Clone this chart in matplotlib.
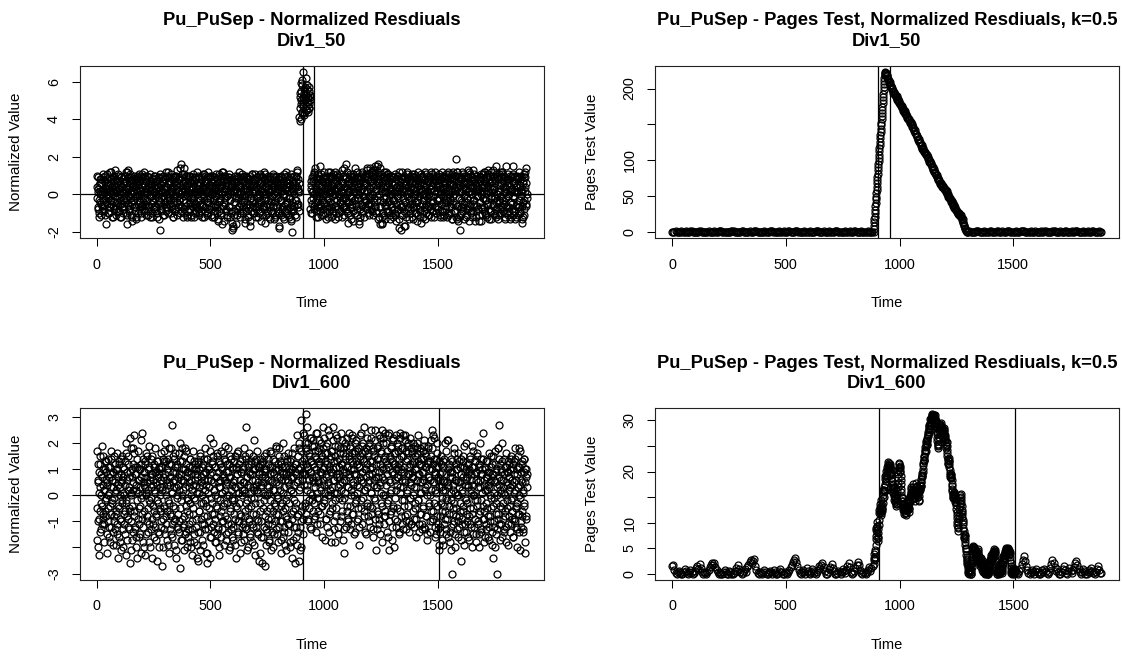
import numpy as np
import matplotlib
matplotlib.use("Agg")
import matplotlib.pyplot as plt

plt.rcParams['font.family'] = ['Liberation Sans', 'DejaVu Sans']

# ---- Div1_50 normalized residuals (tenths); odd time steps then even ones ----
res50_pre = np.array([
    -2, 10, -8, 3, -10, 5, 0, 8, -4, -11, 6, 2, -6, 9, -3, 1, -9, 4, 7, -1,
    -16, 3, -5, 11, -2, 6, -10, 0, 12, -7, 4, -3, 8, -12, 2, -6, 9, 1, -4, 13,
    5, -8, 2, -11, 7, -1, 10, -5, 3, -9, 0, 6, -3, 9, -12, 4, -7, 1, 8, -2,
    -6, 10, -4, 3, -10, 6, -16, 12, 13, 0, -8, 5, -2, 9, -11, 2, 7, -5, -14, 4,
    8, -3, 1, -9, 6, -13, 3, -7, 10, -1, 5, -10, 0, 7, -4, 2, -12, 9, -6, 4,
    11, -2, 6, -8, 0, 10, -5, 3, -11, 7, -3, 1, -9, 5, 9, -6, 2, -12, 4, -1,
    6, -10, 3, -4, 8, -7, 1, 10, -2, 5, -9, 0, 7, -12, 4, -5, 9, -3, 2, -19,
    -8, 5, -2, 9, -6, 1, -11, 6, 3, -4, 8, -9, 0, 4, -7, 10, -1, 12, -5, 7,
    -3, 6, -10, 2, 8, -6, 4, -12, 0, 9, -4, 7, -8, 3, 10, -1, 5, -11, 2, 8,
    -5, 9, -2, 4, -9, 16, 1, 11, -7, 6, -3, 14, -10, 2, 7, -6, 0, 10, -12, 5,
    -1, 8, -8, 3, -4, 10, -11, 6, 0, -6, 9, -2, 4, -12, 7, -5, 1, 8, -9, 3,
    -7, 5, -3, 10, -10, 2, 6, -5, 9, -1, -12, 4, 8, -6, 0, 11, -3, 6, -9, 2,
    7, -4, 1, -11, 9, -2, 5, -8, 3, 10, -6, 0, 8, -12, 4, -3, 6, -9, 2, -5,
    9, -1, 4, -10, 6, -7, -14, 3, 11, -4, 8, -2, 5, -11, 12, 0, -16, 7, -6, 2,
    10, -5, 3, -9, 6, -1, 8, -12, 0, 5, -7, 9, -3, 2, -10, 7, -15, 4, -19, 1,
    -18, 6, -4, 8, -9, 3, -2, 10, -11, 5, 0, 7, -6, 4, -12, 9, -3, 1, -8, 6,
    2, -10, 7, -4, 10, -1, -15, 5, -7, 3, 9, -12, 0, 6, -5, 8, -2, -17, 4, -9,
    1, 11, -6, 5, -3, 8, -10, 2, 7, -8, 4, -1, 9, -12, 3, -5, 6, 0, -9, 11,
    -4, 7, -11, 2, 5, -7, 9, -2, 0, -15, 11, 4, -6, 8, -10, 3, -3, 6, -12, 1,
    8, -5, 2, -9, 6, -1, 10, -7, 4, -13, 0, 7, -4, 9, -11, 3, -6, 5, -2, 8,
    -10, -18, 4, 6, -3, 9, -8, 2, -12, 5, 0, 11, -6, 3, -9, 7, -1, 10, -5, 4,
    -11, 6, -2, 8, -7, 1, -13, 9, -4, -20, 3, -9, 7, 0, -6, 5, -3, 10, -12, 13,
    4, -7, 2, -5, 6]) / 10
res50_pre_b = np.array([
    4, -7, 1, 9, -3, -12, 6, 2, -5, 8, 0, -9, 11, 3, -2, -6, 7, 10, -11, 1,
    -4, 8, 5, -1, -10, 3, 9, -7, -3, 6, 12, -5, 0, 4, -12, 7, 2, -8, 10, -1,
    3, -6, 8, 1, -4, 11, -9, 5, -2, 7, -12, 0, 9, -5, 4, 2, -10, 6, -3, 10,
    -8, 1, 7, -2, 12, -11, 4, -6, 9, 3, -1, -9, 6, 11, -4, 0, 8, -12, 5, -3,
    2, 10, -7, 4, -1, 8, -12, 6, 1, -5, 9, -3, 11, -8, 3, 7, -10, 0, 5, -6,
    9, -4, 1, 12, -9, 5, -2, 8, -6, 0, 10, -11, 3, 6, -7, 4, 11, -1, -5, 7,
    -12, 2, 8, -3, 5, -8, 10, 1, -6, 3, 7, -10, 4, 9, -2, -13, 6, 0, 11, -4,
    5, -9, 2, 7, -1, 10, -5, 3, -11, 8, 1, -7, 12, -3, 4, -10, 6, 9, -2, 0,
    7, -5, 11, 3, -8, 1, 9, -12, 4, -2, 6, 10, -9, 0, 5, -4, 13, -7, 2, 8,
    -3, 6, -10, 14, 0, -6, 9, 2, -12, 5, 11, -1, -8, 7, 3, -4, 10, -11, 1, 6,
    -9, 4, 0, 10, -5, 7, -2, -12, 8, 3, -7, 11, 1, -4, 6, -10, 9, 2, -6, 12,
    0, -8, 5, 3, -11, 9, -3, 6, 1, -9, 10, -5, 4, 11, -1, -12, 7, 2, -7, 8,
    3, -10, 6, 12, -4, 1, -8, 9, -2, 5, -11, 7, 0, 10, -6, 3, -12, 8, -1, 4,
    -7, 11, 2, -5, 8, -13, 6, 0, -9, 10, 4, -3, 7, -10, 1, 9, -6, 12, -4, -14,
    5, -2, 10, -8, 3, 7, -11, 1, 9, -6, 11, -3, 0, -12, 6, 4, -9, 8, -17, 2,
    7, -11, 3, 10, -4, -16, 6, 1, -8, 9, -2, 12, -7, 4, -10, 0, 8, -5, 11, -1,
    -6, 9, -3, 0, -13, 7, 3, -9, 10, -5, 2, 8, -11, 5, 1, -7, 10, -14, 6, -2,
    11, -4, 8, -10, 3, 6, -7, 1, 11, -12, 4, 9, -2, -6, 7, 0, -10, 5, 10, -3,
    6, -14, 3, 9, -6, 1, 12, -8, 4, -3, 8, -11, 0, 6, -5, 10, -9, 2, 7, -13,
    1, 9, -4, 6, -10, 3, 11, -6, 0, 8, -12, 5, -2, 10, -7, 2, 6, -9, 4, -17,
    9, -3, 5, -11, 2, 10, -7, 4, -1, 7, -13, 0, 9, -5, 3, -10, 12, -4, 6, -8,
    2, -12, 8, -2, 5, -9, 11, -14, 3, 6, -8, 1, 10, -6, 4, -11, 7, -3, 9, 12,
    -5, 3, 8, -9, 1]) / 10
res50_shift = np.array([
    41, 52, 39, 55, 48, 43, 58, 50, 65, 47, 54, 42, 51, 57, 45, 53, 49, 56,
    44, 52, 48, 57, 46, 53]) / 10
res50_shift_b = np.array([
    46, 54, 40, 59, 50, 44, 61, 52, 48, 56, 43, 55, 50, 62, 47, 53, 45, 58,
    51, 49, 55, 46, 52, 50]) / 10
res50_post = np.array([
    -8, 5, -3, 9, -10, 2, 7, -6, 11, 0, -4, 14, -9, 3, 8, -2, -12, 6, 1, -7,
    10, 15, -5, 4, -11, 7, -1, 9, -8, 2, 12, -4, 5, -10, 0, 8, -6, 3, -12, 6,
    -2, 9, -9, 4, 12, -7, 1, 10, -5, 6, -11, 3, 8, -3, 0, -13, 7, -6, 11, 2,
    -8, 5, -1, 9, -10, 4, -4, 7, 1, -12, 6, -2, 10, -7, 3, 14, -6, 8, -3, 16,
    0, -9, 5, -15, 8, -4, 2, 11, -11, 6, -1, 9, -7, 3, -14, 10, -3, 5, -10, 1,
    7, -5, 12, -8, 4, -2, 9, -16, 0, 6, -12, 3, 8, -6, 11, -1, -9, 5, 2, -4,
    10, -7, 6, -3, 13, 1, -10, 8, -5, 4, 11, -2, 14, -8, 7, 0, 12, -11, 5, 9,
    -4, 13, -6, 15, 3, -9, 10, -1, 16, 6, -12, 8, -3, 14, -16, 5, -7, -15, 2, 9,
    -10, 12, -2, 7, -13, 4, 10, -6, 1, 11, -9, 6, -3, 9, -11, 2, 8, -5, 10, 0,
    -7, 5, -12, 9, -3, 6, -10, 2, 8, -14, 4, -1, 10, -8, 3, -13, 7, -5, 1, -19,
    -6, 8, -11, 3, -2, 10, -9, -17, 5, -4, 7, -12, 0, 12, -7, 4, 9, -3, -10, 6,
    1, -8, 8, -5, 11, -13, 3, -2, 9, -10, 6, 0, -7, 10, -4, 4, -11, 7, -1, 8,
    -12, 5, -6, 9, -15, 2, 10, -3, 6, -9, 0, 8, -13, 4, -5, 11, -8, 1, 7, -2,
    9, -11, 3, -6, 8, -1, 12, -9, 5, -4, 10, -12, 2, 7, -7, 0, 9, -10, 4, -3,
    6, -8, 11, -2, 3, -12, 8, -5, 1, 10, -9, 4, -1, 7, -11, 5, -6, 9, -3, 2,
    -12, 8, -4, 12, 0, -10, 6, -2, 9, -7, 3, 11, -13, 5, -1, 8, -9, 2, 10, -5,
    4, 19, -13, 12, -6, 7, 1, -12, -19, 5, -3, 9, -10, 2, 8, -7, 11, -1, -13, 6,
    3, -8, 10, -4, 6, -11, 1, 9, -6, 12, -2, 5, -9, 0, 7, -12, 4, 13, -5, 8,
    -3, -14, 6, -9, 2, 10, -6, 4, -1, 8, -11, 3, 7, -4, -14, 0, 9, -8, 5, -2,
    11, -7, 2, 12, -10, 6, -3, 9, -12, 4, 13, -5, 1, 8, -9, 6, -1, 12, -13, 3,
    7, -6, 10, -2, 4, -11, 8, -4, 15, -8, 0, 9, -13, 5, -3, 11, -10, 2, 6, -7,
    9, -2, 12, -9, 4, -5, 10, -12, 1, 7, -6, 3, -10, 8, -1, 11, -7, 5, -13, 2,
    -4, 9, -8, 3, 10, -11, 15, -2, 6, -9, 1, 8, -12, 4, -5, 10, -7, 2, -3, 9,
    -10, 5, -1, 8, -13, 3, -15, 6, -4, 11, -8, 2, 9, -6, 14, -2]) / 10
res50_post_b = np.array([
    3, -10, 7, 1, -5, 10, -2, 12, -8, 4, 6, -12, 0, 9, -4, 2, 11, -7, 5, -1,
    -9, 8, 2, -6, 11, -3, 5, -11, 7, 0, -5, 9, 3, -13, 6, 10, -2, -8, 4, 12,
    1, -7, 10, -4, 5, 8, -12, 2, -1, 11, -9, 6, 0, -6, 12, 3, -10, 7, -3, 9,
    5, -12, 0, 8, -5, 11, 2, -9, 6, -3, 13, -7, 1, 10, -11, 4, -2, 9, -8, 3,
    12, -4, 7, -10, 1, 6, -7, 10, -2, -13, 4, 8, -5, 11, -9, 2, 7, -3, 14, -6,
    0, 9, -11, 4, 8, -2, -14, 6, 1, -8, 10, -5, 3, 12, -10, 7, -1, 5, -12, 9,
    -3, 6, 11, -8, 2, 14, -5, 9, -1, -11, 7, 3, -6, 12, 0, 10, -9, 4, 13, -2,
    8, -7, 11, 2, -10, 15, 5, -3, 12, -13, 7, 0, 10, -6, 3, 11, -12, -16, 6, -4,
    4, -11, 9, 1, -6, 12, -2, 8, -9, 5, 11, -4, 0, 7, -13, 3, 10, -7, 2, -10,
    6, -3, 9, -8, 1, 11, -11, 4, -5, 10, 2, -9, 7, -2, 12, -18, 5, 0, -7, 8,
    -11, 3, 12, -6, 6, -17, 1, 9, -4, 5, -10, 8, -1, 11, -8, 2, -13, 7, 4, -5,
    10, -2, 6, -12, 3, 9, -7, 0, 11, -4, 7, -10, 2, 8, -14, 5, -3, 12, -8, 1,
    6, -9, 3, 11, -5, 8, -12, 0, 9, -3, 5, -7, 12, -1, -10, 7, 2, -6, 10, -11,
    4, 0, -8, 9, 3, -12, 11, -4, 6, -1, -9, 8, 2, -6, 12, -10, 5, -3, 7, 1,
    -7, 10, -3, 5, -11, 8, 0, -5, 12, -9, 3, 7, -12, 1, 9, -4, 6, -8, 11, -2,
    4, -11, 9, 2, -7, 11, -3, 6, -10, 1, 8, -13, 5, 12, -5, 0, 7, -9, 3, -12,
    10, 12, -6, 6, -14, 4, 9, -2, -11, 8, 1, -7, 12, -4, 3, -9, 6, 10, -5, 0,
    7, -12, 3, 9, -2, 13, -8, 5, -14, 2, 11, -5, 7, -10, 0, 9, -3, 4, -9, 11,
    -6, 2, 8, -12, 5, -1, 10, -8, 3, 6, -14, 9, -4, 1, 11, -7, 4, -11, 8, -2,
    5, -9, 12, -3, 7, 0, -11, 9, -5, 2, 11, -8, 6, -13, 4, 10, -2, -9, 7, 1,
    13, -5, 3, -10, 9, -2, 6, -12, 11, 0, -7, 8, 2, -11, 10, -4, 5, -8, 12, -1,
    -6, 11, -3, 7, -10, 1, 9, -13, 4, -2, 15, -7, 5, -11, 8, 0, -9, 6, 10, -4,
    3, -12, 7, -5, 11, -1, 6, -9, 2, 10, -13, 4, -6, 9, 1, -11, 8, -3, 12, -7,
    5, -9, 2, 10, -6, 1, -12, 7, -3, 9, -11, 4, 12, -5, 6, 0]) / 10

# ---- Div1_50 Pages test ----
pages50_pre = np.array([
    3, 0, 5, 9, 2, 0, 0, 6, 11, 4, 0, 2, 7, 0, 0, 4, 9, 13, 6, 0,
    0, 5, 2, 0, 8, 12, 5, 0, 3, 0, 0, 6, 10, 4, 0, 2, 0, 7, 3, 0,
    5, 9, 14, 8, 1, 0, 4, 0, 0, 6, 2, 0, 9, 15, 10, 3, 0, 0, 5, 1,
    0, 7, 12, 6, 0, 3, 0, 0, 8, 4, 0, 5, 11, 17, 9, 2, 0, 6, 0, 0,
    4, 10, 6, 0, 2, 0, 7, 13, 8, 1, 0, 5, 0, 0, 9, 4, 0, 3, 8, 2,
    0, 6, 12, 7, 0, 0, 4, 0, 10, 16, 9, 3, 0, 5, 1, 0, 7, 2, 0, 0,
    6, 11, 4, 0, 3, 0, 8, 14, 7, 0, 2, 0, 5, 9, 3, 0, 0, 6, 12, 5,
    0, 4, 0, 9, 15, 8, 2, 0, 6, 1, 0, 0, 7, 3, 0, 5, 10, 4, 0, 2,
    8, 13, 6, 0, 0, 4, 9, 2, 0, 6, 0, 3, 8, 1, 0, 4, 0]) / 10
pages50_rise = [
    0.6, 4.7, 8.3, 13.2, 17.5, 21.3, 26.6, 30.6, 36.4, 40.6, 45.5, 49.2, 53.8,
    59.0, 63.0, 67.8, 72.2, 77.3, 81.2, 85.9, 90.1, 95.1, 98.6, 103.4, 107.7,
    113.1, 117.0, 121.6, 125.7, 130.7, 135.1, 138.9, 144.1, 148.6, 152.6,
    157.5, 161.8, 165.4, 170.5, 174.9, 179.6, 183.5, 188.8, 193.0, 197.6,
    201.6, 206.4, 210.1, 215.1, 218.3, 220.8, 222.0, 222.9, 222.1]
pages50_fall = [
    221, 218, 219, 215, 213, 214, 210, 208, 209, 205, 203, 204, 200, 199, 201,
    197, 194, 195,
    193, 191, 192, 189, 188, 189, 186, 184, 185, 182, 183, 180, 178, 179, 177,
    175, 176, 173, 174, 171, 169, 170, 167, 168, 165, 163, 164, 161, 162, 159,
    157, 158, 156, 157, 154, 152, 153,
    151, 149, 150, 146, 145, 146, 142, 141, 142, 138, 136, 137, 134, 133, 134,
    130, 128, 129, 126, 124, 125, 121, 120, 121, 117, 116, 117, 114, 112, 113,
    110, 111, 108, 109, 107, 108,
    105, 102, 103, 100, 98, 99, 96, 95, 96, 92, 90, 91, 88, 87, 88, 84, 82,
    83, 80, 79, 80, 76, 74, 75, 72, 71, 72, 68, 67, 68, 65, 66, 63, 64, 62,
    63, 60, 61, 59, 60,
    58, 56, 57, 53, 52, 53, 49, 48, 49, 46, 47, 44, 42, 43, 40, 41, 38, 36,
    37, 34, 35, 32, 30, 31, 28, 29, 26, 27, 25, 26, 23, 24, 22, 23, 21,
    19, 17, 18, 14, 12, 10, 8, 6, 4, 3, 1, 0]
pages50_post = np.array([
    0, 4, 9, 3, 0, 6, 0, 2, 8, 13, 7, 0, 3, 0, 5, 10, 4, 0, 0, 6,
    12, 8, 1, 0, 5, 0, 9, 14, 6, 0, 2, 7, 0, 0, 4, 11, 16, 9, 3, 0,
    6, 0, 2, 8, 4, 0, 0, 7, 13, 18, 10, 4, 0, 5, 0, 3, 9, 2, 0, 6,
    11, 5, 0, 0, 4, 8, 2, 0, 7, 12, 6, 0, 3, 0, 5, 10, 15, 8, 1, 0,
    4, 0, 7, 3, 0, 6, 12, 9, 2, 0, 0, 5, 10, 4, 0, 8, 14, 7, 0, 3,
    0, 6, 11, 5, 0, 2, 9, 4, 0, 0, 7, 13, 6, 1, 0, 5, 9, 3, 0]) / 10

# ---- Div1_600 normalized residuals (tenths); odd time steps then even ones ----
res600_pre = np.array([
    17, -17, 5, -10, 9, -23, 3, -6, 12, 0, -13, 7, -4, 15, -9, 2, -11, 10, -2, 6,
    -8, 13, -15, 4, -5, 11, -12, 1, 8, -18, 3, -7, 14, -3, 6, -14, 9, -1, -10, 5,
    12, -6, -19, 2, 10, -11, 7, -4, -16, 13, 0, -9, 5, -21, 8, -3, 15, -13, 1, -7,
    10, -15, 4, -2, 16, -23, -8, 6, 12, -12, 3, -5, 9, -26, 18, 0, -10, 7, -17, 2,
    18, -6, 23, 11, -13, 4, -20, 8, -2, 14, -9, 1, 6, -16, 10, -4, -22, 12, -1, 24,
    -7, 5, -12, 9, -20, 3, 13, -15, 0, 7, -10, 15, -5, 2, -18, 11, -3, 6, -13, 14,
    -1, 8, -24, 4, -11, 12, -6, 1, 9, -17, 5, -8, 13, -2, -14, 7, 10, -20, 3, -5,
    11, -12, 6, -27, 2, 14, -9, -4, 17, -15, 8, 0, -11, 13, -6, 4, -19, 9, 18, -3,
    7, -13, 12, -8, 27, 1, -16, 5, 15, -10, 3, -5, 16, -21, 9, 0, -12, 11, -7, 4,
    -14, 8, -28, 13, -2, 6, -17, 18, -9, 10, 2, -11, 5, -15, 18, -4, 12, -20, 7, -1,
    9, -13, 3, -7, 14, -18, 6, 0, -10, 11, -23, 4, -5, 13, -15, 8, -2, 10, -12, 1,
    -19, 7, -25, 12, -6, 3, 15, -14, 5, -9, 11, 0, -17, 8, -3, 14, -11, 2, 9, -22,
    4, -8, -26, 14, 1, -13, 10, -5, 22, -24, 6, -16, 12, -3, 9, -11, 15, -7, 2, -18,
    11, -4, 7, -15, 16, -1, -12, 5, 13, -20, 3, -8, 17, -6, 10, -13, 1, 8, -10, 14,
    -3, 6, 19, -17, 4, -9, 12, 0, -14, 9, -21, 7, -5, 15, -11, 2, -16, 11, -2, 5,
    -12, 13, -7, 3, -19, 10, -4, 8, 16, -10, 1, -15, 12, -3, 6, -22, 9, -8, 14, 0,
    -11, 5, 11, -17, 2, -6, 15, 26, -13, 7, -2, 12, -20, 4, 9, -9, 1, -15, 13, -4,
    8, -18, 3, -12, 10, -1, 21, -23, 6, -7, 14, -14, 2, 11, -10, 5, -25, 9, -3, 12,
    -16, 4, 8, -26, 13, -5, 1, -12, 15, -8, 7, -19, 10, 0, -14, 6, 12, -9, 3, -17,
    11, -2, 16, -21, 5, -11, 9, -6, 14, -15, 2, -4, 10, 18, -13, 7, -1, -18, 12, -7,
    4, 18, -10, 13, -22, 6, -3, 11, -16, 1, 8, -12, 15, -5, -19, 9, -8, 14, 0, -11,
    6, -14, 10, -3, 13, -20, 2, 7, -9, 16, -6, 11, -17, 4, -2, 12, -26, 8, -12, 5,
    -19, 15, -7, 10, -25, 18, 3, -21, 29, -10, 6, -4, 12, -15, 9]) / 10
res600_pre_b = np.array([
    -5, 12, -20, 6, 1, -9, 15, -14, 8, -3, 19, -11, 4, -7, 10, -18, 2, 13, -6, -1,
    9, -22, 5, 14, -10, 0, 7, -16, 11, -4, -12, 17, -2, 6, -19, 9, 3, -8, 15, -13,
    1, 10, -7, 16, -15, 4, -24, 8, 12, -5, -18, 3, 14, -10, 6, -2, 11, -20, 7, 0,
    -11, 13, -6, 20, -3, 9, -17, 2, -9, 15, -13, 7, 22, -6, 1, -21, 10, -4, 12, -14,
    5, -8, 16, -12, 8, 2, -16, 11, -24, 6, 17, -5, -11, 10, 3, -15, 7, 21, -9, 0,
    14, -18, 4, 9, -6, 12, -23, 1, 16, -8, 5, -14, 10, -2, 19, -11, 7, -20, 3, 8,
    -9, 15, -4, 6, -16, 11, 2, -12, 18, -7, 9, -25, 4, 13, -3, 8, -15, 11, -6, 0,
    16, -10, 3, 11, -20, 7, -5, 13, -13, 2, 20, -8, 6, -17, 10, -2, 14, -22, 5, 12,
    -7, 4, -15, 18, 1, -11, 9, -4, 14, -19, 6, 11, -9, 3, -24, 12, -1, 7, -13, 16,
    2, -10, 20, -5, 8, -17, 13, 0, -12, 6, 15, -8, -21, 10, 3, -14, 17, -6, 9, -2,
    -16, 11, 5, -11, 14, -3, -20, 8, 2, -13, 17, -7, 10, -1, -18, 6, 12, -9, 4, -24,
    8, -14, 13, 1, -6, 10, -21, 16, -3, 7, -11, 4, 12, -19, 6, -8, 18, -2, -13, 9,
    -4, 14, -22, 6, 11, -10, 3, 17, -16, 8, -1, -12, 13, -7, 5, 20, -14, 2, -9, 11,
    0, -18, 7, 15, -5, 9, -13, 3, -23, 12, -2, 6, -16, 11, 1, -10, 16, -4, -19, 7,
    13, -8, 2, 9, -15, 5, -3, 18, -11, 0, 12, -20, 7, -6, 14, -13, 4, -1, 10, -17,
    6, -2, 15, -9, 3, -24, 11, -5, 8, -14, 17, 1, -10, 13, -7, 4, -18, 9, 2, -12,
    10, -15, 5, 18, -8, 1, -12, 14, -3, 7, -21, 11, -5, 16, -10, 3, 8, -16, 12, -1,
    -11, 6, 15, -7, 2, -19, 10, -3, 13, -12, 4, 17, -9, 1, -15, 8, 11, -6, -22, 14,
    3, -10, 7, 12, -16, 5, -2, 10, -27, 9, 0, -13, 16, -6, 4, -11, 14, 1, -18, 8,
    -5, 17, -9, 6, -14, 11, 2, -20, 8, -3, 13, -10, 5, 19, -7, 0, -15, 10, -1, 15,
    -12, 7, 2, -17, 12, -4, 9, -10, 20, -6, 3, -14, 11, 6, -21, 8, -2, 13, -9, 5,
    16, -11, 4, 9, -18, 2, 14, -7, 10, -24, 7, 1, -12, 18, -5, 9, -16, 12, -3, 23,
    -8, 6, -14, 20, 2, -12, 11, -6, 17, -20, 8, 13, -9, 24, 4]) / 10
res600_shift = np.array([
    14, 23, -4, 8, 18, 31, 2, 11, -9, 20, 6, -2, 16, 9, -12, 13, 22, 0, 7, -6,
    12, 19, -3, 5, 15, -8, 10, 24, 1, -11, 17, 6, -1, 13, 21, 3, -7, 9, 14, -4,
    8, 18, 26, -2, 11, 4, -17, 16, 7, -9, 12, 20, 0, 5, -14, 10, 23, 2, -6, 15,
    9, -3, 17, 26, 6, -10, 13, 1, -18, 19, 11, -5, 7, 22, 3, -12, 14, 8, -1, 18,
    4, -8, 12, 21, -2, 10, 16, -13, 6, -22, 15, 1, 9, 19, -6, 11, 3, -10, 14, 24,
    7, -4, 18, 2, -11, 13, 22, 5, -7, 16, 0, 10, -14, 20, 8, -2, 12, 4, 17, -9,
    11, 3, -12, 15, 23, 6, -5, 19, 9, -1, 14, 26, 2, -8, 10, 17, -15, 7, 12, -3,
    16, 5, -10, 20, 8, -4, 13, 1, 22, -7, 11, 18, -13, 6, 15, 25, -2, 9, -21, 3,
    14, -6, 19, 7, 23, -9, 4, 12, -15, 17, 1, 25, -4, 10, 22, -11, 6, 15, 0, -8,
    13, 20, -3, 8, -16, 11, 24, -21, 5, 14, -7, 18, 2, -12, 9, 21, -5, 12, -20, 6,
    16, -1, 10, 23, -10, 4, 19, 7, -14, 12, 22, 1, -6, 15, 9, -11, 18, 3, 23, -2,
    11, 23, -8, 6, 17, -13, 2, 14, -4, 20, 8, -10, 12, 5, -1, 18, -11, 9, 16, 0,
    7, -12, 13, 19, -5, 10, 3, -9, 16, 20, -2, 8, -14, 12, 5, 18, -7, 1, 14, -11,
    9, 17, -4, 6, 19, -13, 11, 2, -8, 15, 4, -15, 12, 18, -3, 7, -10, 13, 0, 21,
    -6, 10, 25, 23, -9, 5, 14, -12, 8, 2, -15, 11, 16, -4, 6, -11, 13, -21]) / 10
res600_shift_b = np.array([
    8, -3, 20, 12, -7, 17, 4, 26, -10, 10, 15, -5, 22, 1, 13, -13, 9, 19, -2, 6,
    21, -9, 11, 3, 17, -14, 7, 14, -1, 24, 5, -6, 12, 18, -11, 9, 2, 20, -4, 15,
    -16, 10, 6, 22, -3, 13, 1, -9, 19, 8, -12, 16, 4, 25, -7, 11, 0, 14, -18, 9,
    17, 3, -5, 21, 10, -13, 6, 15, -2, 23, 8, -8, 13, 1, 19, -15, 7, 11, -10, 16,
    2, 24, -6, 12, 5, -17, 18, 9, -1, 14, 20, -12, 6, 11, -4, 22, 3, -9, 15, 8,
    -13, 19, 10, 0, 16, -7, 23, 4, 12, -15, 8, 17, -3, 13, 21, -10, 6, 1, 18, -5,
    11, -19, 14, 7, 24, -2, 9, 16, -11, 5, 20, -6, 13, 2, -14, 18, 10, -4, 22, 3,
    -8, 15, 6, 19, -12, 10, 1, 25, -5, 13, 8, -16, 17, 4, -1, 21, -9, 12, 7, -13,
    18, 3, -7, 14, 9, -11, 22, 5, 16, -3, 11, -18, 7, 20, 0, -8, 14, 24, -6, 10,
    4, -14, 17, 12, -2, 23, 6, -10, 15, 1, 19, -6, 9, -17, 13, 22, -4, 8, 16, -9,
    12, 2, -12, 20, 7, -5, 17, 11, -15, 14, 3, 24, -8, 10, 18, -2, 6, -13, 15, 9,
    -4, 21, 5, -10, 13, 1, 19, -7, 8, 16, -14, 11, 22, -1, 4, -11, 17, 7, -6, 12,
    20, -9, 3, 15, -3, 10, -16, 18, 6, -2, 13, 23, -11, 8, 1, 17, -7, 12, -13, 5,
    14, -5, 9, 21, -12, 3, 16, -8, 11, 0, -17, 13, 7, 19, -4, 10, -14, 6, 15, 2,
    -10, 18, 5, -6, 12, 22, -3, 9, -16, 14, 1, 20, -8, 7, -13, 11, 3, -19]) / 10
res600_post = np.array([
    -14, 6, -8, 12, -3, 9, -17, 2, 13, -11, 5, -6, 20, -1, -15, 8, 21, -9, 3, 21,
    -4, 11, -18, 7, -12, -2, 14, -30, 9, -7, 4, 16, -10, 1, -20, 12, -5, 6, -13, 10,
    0, -16, 13, -8, 5, -3, 14, -25, 8, -11, 2, 15, -6, 11, -19, 4, 9, -14, 20, -2,
    7, -10, 12, 3, -17, 10, -5, 14, 1, -12, 8, 19, -7, 4, -15, 11, 0, 13, -9, 6,
    -18, 9, -2, 15, -11, 5, 12, -20, 3, -6, 14, 8, -14, 1, 10, -4, 24, -9, 6, -16,
    11, -3, 7, -13, 2, 13, -8, 4, -17, 9, 0, -10, 15, -5, 6, -19, 12, -24, 8, -1,
    -12, 5, 17, -7, 10, -15, -30, 3, 18, -9, 7, 27, -4, 12, -11, 1, 9, -16, 20, -3,
    6, -13, 14, 0, -8, 11, -18, 5, 9, -5, 13, -11, 2, 7, -14, 10, -2, 15, -9, 4,
    -6, 12, -16, 8, 1, -10, 14, -4, 6, -13, 10, -20, 3, 11, -7, 18, -1, -21, 9, -12,
    5, 13, -8, 2, -14, 14, -4, 10, -22, 7, -9, 8]) / 10
res600_post_b = np.array([
    8, -12, 3, 15, -6, -1, 11, -19, 6, -4, 14, -9, 2, 17, -13, 5, -2, 10, -16, 4,
    12, -7, -14, 9, 1, -21, 7, 13, -5, 2, -11, 18, -3, 6, -15, 10, -8, 14, 0, -10,
    5, 16, -12, 3, -6, 11, -17, 8, 1, -9, 13, -4, 7, -14, 19, -1, -11, 6, 10, -7,
    -3, 12, -16, 4, 9, -8, 15, -11, 2, 6, -20, 11, -5, 17, 0, -12, 8, -2, 13, -15,
    9, -4, 16, -10, 3, -7, 11, -15, 6, 20, -2, -13, 8, 1, -9, 14, -6, 4, -18, 10,
    2, -11, 13, 7, -5, -16, 9, 3, -12, 16, -8, 5, -1, 11, -14, 8, -4, 15, -10, 1,
    6, -20, 12, -3, 9, 0, -13, 18, -7, 4, 14, -11, 2, -17, 10, 6, -5, 13, -9, 3,
    -14, 8, 1, 11, -6, 16, -12, 4, -2, 9, -19, 7, 12, -8, 3, -4, 14, -11, 6, -1,
    10, -16, 5, 13, -9, 2, 18, -5, -12, 8, -3, 15, -7, 0, 11, -14, 4, 17, -10, 6,
    -6, 12, 1, -13, 9, -3, 14, -18, 5, 10, -8, 3]) / 10

# ---- Div1_600 Pages test ----
pages600_pre = np.array([
    14, 16, 8, 2, 0, 3, 6, 2, 0, 0, 4, 9, 5, 1, 0, 3, 7, 3, 0, 1,
    5, 10, 14, 9, 18, 10, 3, 0, 4, 1, 0, 3, 8, 13, 17, 21, 16, 20, 12, 8,
    3, 0, 2, 0, 0, 3, 7, 4, 0, 0, 6, 3, 0, 0, 2, 6, 10, 5, 16, 9,
    3, 0, 1, 5, 9, 4, 12, 17, 22, 27, 20, 25, 28, 15, 7, 2, 0, 4, 1, 0,
    3, 7, 4, 0, 0, 2, 6, 3, 0, 8, 4, 0, 0, 2, 6, 9, 3, 0, 0, 4,
    1, 0, 3, 8, 13, 17, 22, 26, 30, 23, 15, 7, 2, 0, 3, 8, 4, 0, 10, 5,
    2, 0, 4, 9, 5, 1, 0, 3, 7, 14, 10, 17, 21, 13, 6, 0, 0, 3, 9, 13,
    18, 11, 5, 0, 0, 2, 6, 3, 0, 4, 9, 5, 1, 8, 14, 21, 13, 4, 0, 2,
    6, 11, 17, 23, 16, 8, 2, 0, 4, 1, 0, 3, 7, 12, 6, 10, 15]) / 10
pages600_mid = [
    1.8, 3.0, 4.3, 3.2, 5.6, 7.4, 9.0, 10.2, 8.1, 6.3, 7.9, 9.6,
    11.8, 13.0, 12.1, 14.5, 12.6, 11.8, 13.4, 12.2, 14.8, 16.3, 15.1, 17.0,
    16.2, 18.5, 19.4, 18.2, 20.1, 19.0, 20.8, 21.3, 20.2, 21.6, 20.5, 19.3,
    21.0, 20.4, 18.7, 19.5, 17.6, 16.2, 17.4, 15.8, 16.9, 15.2, 14.0, 15.5,
    13.6, 14.8, 13.2, 14.4, 16.1, 17.8, 19.6, 20.8, 21.4, 20.1, 21.0, 19.2,
    17.5, 15.9, 14.3, 15.1, 13.4, 12.5, 13.8, 12.2, 11.8, 13.0, 12.4, 11.9,
    13.3, 12.6, 14.0, 12.8, 13.5, 12.1, 13.9, 15.2, 14.1, 15.8, 16.9, 15.4,
    14.6, 16.2, 17.5, 16.0, 14.8, 15.7, 14.2, 15.5, 17.0, 16.1, 17.8, 16.5,
    15.3, 16.8, 15.1, 14.3, 15.9, 17.2, 16.4, 17.9, 17.1, 18.6, 19.8, 19.0,
    20.4, 21.7, 22.9, 22.0, 23.6, 24.8, 24.0, 25.5, 26.2, 25.1, 26.6, 27.8,
    27.0, 28.4, 29.1, 28.2, 29.6, 30.4, 29.5, 30.8, 31.2, 30.3, 31.0, 30.1,
    29.4, 30.6, 31.1, 30.2, 28.9, 29.8, 28.6, 27.3, 25.9, 24.6, 25.4, 26.8,
    28.1, 29.3, 28.4, 29.6, 28.7, 27.5, 28.8, 27.9, 26.6, 27.7, 28.6, 27.4,
    26.2, 27.1, 25.8, 24.6, 25.7, 24.3, 23.1, 22.2, 21.4, 22.6, 21.5, 20.3,
    19.4, 18.8, 19.6, 18.3, 17.2, 16.1, 15.4, 14.8, 16.0, 15.2, 14.1, 15.5,
    14.6, 13.4, 12.1, 10.8, 9.6, 8.4, 9.9, 11.3, 12.6, 13.8, 14.9, 15.6,
    14.4, 13.2, 12.0, 11.1, 10.2, 9.0, 7.8, 6.9, 7.5, 6.2, 5.1, 4.4,
    3.2, 2.6, 1.9, 1.0, 0.2, 0.8, 0.0, 1.2, 2.1, 0.4, 0.0, 1.3,
    2.7, 3.8, 4.9, 5.5, 4.6, 5.3, 4.2, 3.5, 4.4, 3.1, 2.4, 3.6,
    4.8, 4.0, 3.3, 2.2, 3.4, 2.6, 1.5, 2.3, 3.1, 2.0, 1.1, 0.4,
    1.6, 2.5, 1.3, 0.6, 0.0, 0.9, 1.8, 0.7, 0.0, 0.5, 1.4, 0.3,
    0.0, 0.8, 1.7, 2.6, 1.9, 2.8, 3.6, 2.7, 3.5, 4.2, 3.3, 4.1,
    4.8, 3.9, 4.6, 3.4, 2.5, 1.2, 0.3, 0.0, 0.6, 1.5, 0.5, 0.0,
    0.9, 0.2, 1.1, 2.0, 1.0, 0.1, 0.9, 1.8, 2.7, 3.5, 2.6, 3.6,
    4.4, 3.7, 4.5, 5.0, 4.1, 4.9, 4.3, 5.1, 4.4, 3.6, 4.7, 3.8,
    2.6, 1.5, 0.6, 0.0, 0.8, 0.2, 1.0, 0.4, 0.0, 0.7]
pages600_mid_b = [
    2.6, 3.9, 2.8, 4.6, 6.8, 8.5, 9.4, 9.2, 7.0, 7.2, 8.8, 10.5,
    12.5, 12.2, 13.6, 13.2, 11.5, 12.9, 12.6, 13.8, 15.9, 15.4, 16.4, 16.1,
    17.6, 19.2, 18.6, 19.4, 19.3, 20.2, 21.8, 20.6, 21.2, 20.8, 19.6, 20.4,
    21.5, 19.3, 19.8, 18.2, 16.7, 17.0, 16.5, 16.6, 15.9, 14.5, 14.9, 14.6,
    14.3, 13.9, 13.7, 15.3, 17.0, 18.8, 20.3, 21.6, 20.7, 20.6, 20.0, 18.3,
    16.6, 15.0, 14.8, 14.2, 12.8, 13.2, 12.9, 11.6, 12.6, 12.7, 11.5, 12.8,
    12.4, 13.5, 13.2, 13.9, 12.6, 12.9, 14.7, 14.5, 15.0, 16.5, 16.0, 14.7,
    15.5, 17.0, 16.6, 15.2, 15.6, 14.9, 14.8, 16.4, 16.3, 17.0, 17.2, 15.8,
    16.2, 15.9, 14.5, 15.2, 16.6, 16.5, 17.3, 17.2, 18.0, 19.4, 19.2, 19.9,
    21.2, 22.3, 22.2, 23.0, 24.3, 24.1, 24.9, 26.0, 25.4, 25.9, 27.4, 27.1,
    27.8, 29.0, 28.5, 29.0, 30.2, 29.7, 30.3, 31.0, 30.6, 30.9, 30.4, 29.6,
    30.0, 31.0, 30.5, 29.4, 29.5, 29.0, 27.8, 26.5, 25.1, 24.9, 26.2, 27.5,
    28.8, 28.7, 29.1, 29.0, 28.0, 28.2, 28.3, 27.1, 27.3, 28.2, 27.9, 26.7,
    26.8, 26.4, 25.1, 25.2, 24.9, 23.6, 22.5, 21.6, 22.1, 22.0, 20.8, 19.8,
    19.0, 19.3, 18.9, 17.6, 16.6, 15.6, 15.0, 15.5, 15.6, 14.5, 14.9, 15.0,
    14.0, 12.6, 11.5, 10.1, 9.0, 9.2, 10.6, 11.9, 13.2, 14.3, 15.3, 15.0,
    13.8, 12.5, 11.6, 10.5, 9.7, 8.3, 7.2, 7.3, 6.8, 5.6, 4.8, 3.7,
    2.9, 2.2, 1.4, 0.5, 0.5, 0.3, 0.6, 1.6, 1.2, 0.0, 0.7, 2.0,
    3.3, 4.4, 5.2, 5.0, 4.9, 4.7, 3.8, 4.0, 3.7, 2.7, 3.0, 4.2,
    4.4, 3.6, 2.7, 2.8, 3.0, 2.0, 1.9, 2.7, 2.5, 1.5, 0.7, 1.0,
    2.0, 1.9, 0.9, 0.2, 0.4, 1.4, 1.2, 0.3, 0.2, 1.0, 0.8, 0.0,
    0.4, 1.2, 2.1, 2.2, 2.4, 3.2, 3.1, 3.1, 3.9, 3.8, 3.7, 4.5,
    4.3, 4.2, 4.0, 2.9, 1.8, 0.7, 0.0, 0.3, 1.0, 1.0, 0.2, 0.4,
    0.5, 0.6, 1.6, 1.5, 0.5, 0.5, 1.3, 2.3, 3.1, 3.0, 3.1, 4.0,
    4.0, 4.1, 4.8, 4.5, 4.5, 4.6, 4.7, 4.8, 3.9, 4.2, 4.3, 3.2,
    2.0, 1.0, 0.2, 0.4, 0.5, 0.6, 0.7, 0.1, 0.3, 0.9]
pages600_post = np.array([
    3, 6, 2, 0, 5, 11, 18, 27, 34, 25, 15, 7, 2, 0, 4, 8, 3, 0, 5, 9,
    4, 0, 0, 2, 7, 4, 9, 5, 1, 0, 3, 11, 18, 27, 21, 13, 6, 9, 4, 0,
    0, 4, 9, 14, 8, 2, 0, 5, 10, 6, 1, 7, 13, 20, 25, 17, 9, 3, 0, 4,
    9, 5, 0, 0, 3, 8, 4, 11, 6, 1, 0, 4, 9, 14, 8, 2, 1]) / 10

x_ticks = [0, 500, 1000, 1500]


def series(segments):
    # each segment: (first time index, step between samples, values)
    t = np.concatenate([s + d * np.arange(len(v)) for s, d, v in segments])
    y = np.concatenate([np.asarray(v, dtype=float) for _, _, v in segments])
    return t, y


def panel(ax, segments, title, ylabel, vlines, yticks, ylabels, zero_line):
    t, y = series(segments)
    ax.plot(t, y, linestyle='none', marker='o', ms=5.0, mfc='none',
            mec='black', mew=0.9)
    # R style 4% padding
    tp = 0.04 * (t.max() - t.min())
    yp = 0.04 * (y.max() - y.min())
    ax.set_xlim(t.min() - tp, t.max() + tp)
    ax.set_ylim(y.min() - yp, y.max() + yp)
    for v in vlines:
        ax.axvline(v, color='black', lw=0.9)
    if zero_line:
        ax.axhline(0, color='black', lw=0.9)

    ax.set_xticks(x_ticks)
    ax.set_yticks(yticks, labels=ylabels, rotation=90, va='center')
    ax.tick_params(axis='both', direction='out', length=6, width=0.75,
                   labelsize=10.4, colors='black')
    ax.tick_params(axis='x', pad=8.0)
    ax.tick_params(axis='y', pad=7.4)
    for sp in ax.spines.values():
        sp.set_linewidth(0.8)
        sp.set_color('#222222')

    ax.set_title(title, fontsize=13.2, fontweight='bold', pad=14.9,
                 linespacing=1.2)
    ax.set_xlabel('Time', fontsize=10.5)
    ax.set_ylabel(ylabel, fontsize=10.9)
    ax.xaxis.label.set_va('center')
    ax.yaxis.label.set_va('center')
    ax.xaxis.set_label_coords(0.5, -64.8 / (ax.bbox.height))
    ax.yaxis.set_label_coords(-63.5 / (ax.bbox.width), 0.5)


fig = plt.figure(figsize=(11.22, 6.56), dpi=100)
ax1 = fig.add_axes([0.0710, 0.6367, 0.4138, 0.2631])
ax2 = fig.add_axes([0.5838, 0.6367, 0.4131, 0.2631])
ax3 = fig.add_axes([0.0710, 0.1159, 0.4138, 0.2622])
ax4 = fig.add_axes([0.5838, 0.1159, 0.4131, 0.2622])

panel(ax1, [(1, 2, res50_pre), (2, 2, res50_pre_b),
            (891, 2, res50_shift), (892, 2, res50_shift_b),
            (939, 2, res50_post), (940, 2, res50_post_b)],
      'Pu_PuSep - Normalized Resdiuals\nDiv1_50', 'Normalized Value',
      [906, 955], [-2, 0, 2, 4, 6], ['-2', '0', '2', '4', '6'], True)

panel(ax2, [(1, 5, pages50_pre), (886, 1, pages50_rise),
            (941, 2, pages50_fall), (1297, 5, pages50_post)],
      'Pu_PuSep - Pages Test, Normalized Resdiuals, k=0.5\nDiv1_50',
      'Pages Test Value', [907, 956],
      [0, 50, 100, 150, 200], ['0', '50', '100', '', '200'], False)

panel(ax3, [(1, 2, res600_pre), (2, 2, res600_pre_b),
            (911, 2, res600_shift), (912, 2, res600_shift_b),
            (1507, 2, res600_post), (1508, 2, res600_post_b)],
      'Pu_PuSep - Normalized Resdiuals\nDiv1_600', 'Normalized Value',
      [909, 1506], [-3, -2, -1, 0, 1, 2, 3],
      ['-3', '', '-1', '0', '1', '2', '3'], True)

panel(ax4, [(1, 5, pages600_pre), (886, 2, pages600_mid),
            (887, 2, pages600_mid_b), (1506, 5, pages600_post)],
      'Pu_PuSep - Pages Test, Normalized Resdiuals, k=0.5\nDiv1_600',
      'Pages Test Value', [909, 1506],
      [0, 5, 10, 15, 20, 25, 30], ['0', '5', '10', '', '20', '', '30'], False)

fig.savefig('out.png', dpi=100)
